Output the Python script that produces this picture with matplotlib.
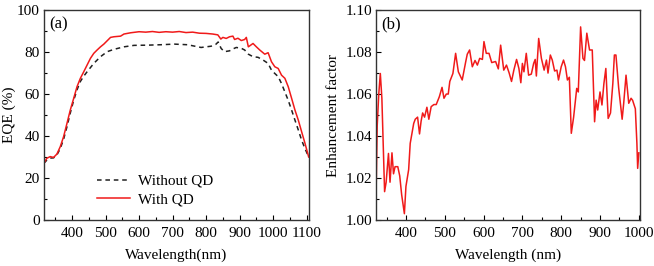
import matplotlib.pyplot as plt
from matplotlib.ticker import MultipleLocator, FormatStrFormatter

plt.rcParams['font.family'] = ['Liberation Serif', 'DejaVu Serif']
plt.rcParams['font.size'] = 11

# (a) EQE, with quantum dots (red)
wl_qd = [316, 325, 335, 345, 355, 365, 375, 385, 395, 405, 415, 425, 435, 445, 455,
         465, 475, 485, 495, 505, 515, 525, 545, 555, 575, 600, 620, 640, 660, 680,
         700, 720, 740, 760, 780, 800, 820, 835, 844, 850, 860, 870, 880, 885, 895,
         905, 915, 920, 926, 940, 950, 960, 975, 985, 995, 1005, 1015, 1025, 1035, 1045,
         1055, 1065, 1075, 1085, 1095, 1106]
eqe_qd = [27.0, 29.4, 30.2, 29.8, 31.4, 34.9, 39.7, 46.0, 52.4, 57.9, 63.5, 67.5, 70.6, 73.8, 77.0,
          79.4, 81.0, 82.5, 83.8, 85.4, 87.0, 87.3, 87.6, 88.6, 89.2, 89.7, 89.5, 89.8, 89.4, 89.7,
          89.5, 89.8, 89.3, 89.5, 89.0, 88.9, 88.6, 88.2, 86.2, 87.0, 86.5, 87.3, 87.6, 86.0, 86.6,
          85.5, 86.0, 87.0, 82.5, 84.1, 82.5, 81.0, 79.0, 79.7, 75.4, 73.0, 72.2, 69.0, 67.5, 63.5,
          58.0, 52.4, 47.6, 42.0, 36.5, 30.0]

# (a) EQE, without quantum dots (black dashed)
wl_ref = [316, 325, 335, 345, 355, 365, 375, 385, 395, 405, 415, 425, 435, 445, 465,
          485, 505, 525, 555, 585, 625, 665, 705, 745, 785, 815, 829, 836, 845, 855,
          870, 880, 890, 905, 915, 926, 940, 955, 970, 985, 995, 1005, 1015, 1025, 1035,
          1045, 1055, 1065, 1075, 1085, 1095, 1106]
eqe_ref = [27.0, 28.5, 29.5, 29.6, 31.0, 34.0, 38.5, 44.4, 51.0, 57.0, 62.0, 66.0, 68.5, 70.6, 74.6,
           77.8, 80.2, 81.3, 82.5, 83.2, 83.3, 83.5, 83.8, 83.5, 82.2, 82.8, 83.7, 84.8, 81.7, 80.2,
           80.6, 81.5, 82.2, 81.8, 81.0, 79.0, 77.8, 77.5, 76.2, 74.6, 71.4, 69.8, 68.3, 65.0, 61.0,
           57.0, 52.4, 47.6, 42.9, 38.0, 34.0, 30.0]

# (b) enhancement factor
wl_b = [322, 326, 330, 334, 338, 345, 349, 355, 359, 364, 368, 372, 379, 384, 389,
        396, 400, 407, 411, 420, 424, 430, 435, 439, 443, 448, 454, 459, 465, 472,
        478, 486, 493, 498, 504, 509, 513, 521, 528, 535, 545, 554, 558, 564, 571,
        578, 584, 590, 597, 601, 607, 614, 621, 631, 638, 644, 652, 659, 666, 672,
        678, 685, 691, 696, 700, 704, 710, 716, 723, 729, 733, 736, 742, 749, 756,
        762, 766, 772, 777, 783, 789, 793, 800, 806, 811, 816, 821, 826, 832, 840,
        844, 850, 856, 860, 866, 873, 880, 886, 890, 894, 900, 905, 910, 915, 921,
        927, 933, 937, 941, 948, 957, 961, 967, 974, 980, 984, 991, 995, 997, 1000]
ef = [1.001, 1.045, 1.060, 1.0698, 1.058, 1.0135, 1.018, 1.0317, 1.018, 1.032, 1.022, 1.0254, 1.0254, 1.021, 1.012,
      1.003, 1.016, 1.024, 1.0365, 1.046, 1.048, 1.049, 1.041, 1.047, 1.051, 1.049, 1.0537, 1.048, 1.054, 1.055,
      1.055, 1.0587, 1.0632, 1.058, 1.060, 1.060, 1.066, 1.0698, 1.0794, 1.0706, 1.0667, 1.0754, 1.079, 1.081, 1.073,
      1.076, 1.0738, 1.077, 1.0765, 1.085, 1.0794, 1.0794, 1.075, 1.0755, 1.072, 1.0833, 1.0714, 1.0738, 1.070, 1.066,
      1.0714, 1.0765, 1.0722, 1.0654, 1.0746, 1.0706, 1.0794, 1.069, 1.0695, 1.0746, 1.0765, 1.0686, 1.0865, 1.077, 1.0714,
      1.0762, 1.070, 1.0786, 1.0762, 1.071, 1.0714, 1.0667, 1.073, 1.0762, 1.073, 1.0667, 1.068, 1.0413, 1.049, 1.0627,
      1.061, 1.092, 1.077, 1.076, 1.089, 1.081, 1.081, 1.0468, 1.0571, 1.0524, 1.061, 1.0548, 1.065, 1.0722, 1.0484,
      1.051, 1.065, 1.0786, 1.0786, 1.063, 1.048, 1.0556, 1.069, 1.0556, 1.058, 1.057, 1.053, 1.0365, 1.0246, 1.032]

fig = plt.figure(figsize=(6.54, 2.66), dpi=100)
ax1 = fig.add_axes([0.067, 0.173, 0.405, 0.789])
ax2 = fig.add_axes([0.575, 0.173, 0.403, 0.789])

red = '#f01a1a'

ax1.plot(wl_ref, eqe_ref, color='#202020', lw=1.1, ls=(0, (3, 2.5)), label='Without QD')
ax1.plot(wl_qd, eqe_qd, color=red, lw=1.1, label='With QD')
ax1.set_xlim(316, 1106)
ax1.set_ylim(0, 100)
ax1.xaxis.set_major_locator(MultipleLocator(100))
ax1.xaxis.set_minor_locator(MultipleLocator(50))
ax1.yaxis.set_major_locator(MultipleLocator(20))
ax1.yaxis.set_minor_locator(MultipleLocator(10))
ax1.set_xlabel('Wavelength(nm)', labelpad=6)
ax1.set_ylabel('EQE (%)', labelpad=0.5)
ax1.text(0.02, 0.97, '(a)', transform=ax1.transAxes, va='top', ha='left', fontsize=12)
ax1.legend(loc='lower center', frameon=False, handlelength=2.2, handletextpad=0.5,
           labelspacing=0.3, bbox_to_anchor=(0.42, 0.0))

ax2.plot(wl_b, ef, color=red, lw=1.1)
ax2.set_xlim(323, 1002)
ax2.set_ylim(1.00, 1.10)
ax2.xaxis.set_major_locator(MultipleLocator(100))
ax2.xaxis.set_minor_locator(MultipleLocator(50))
ax2.yaxis.set_major_locator(MultipleLocator(0.02))
ax2.yaxis.set_minor_locator(MultipleLocator(0.01))
ax2.yaxis.set_major_formatter(FormatStrFormatter('%.2f'))
ax2.set_xlabel('Wavelength (nm)', labelpad=6)
ax2.set_ylabel('Enhancement factor', labelpad=4)
ax2.text(0.02, 0.97, '(b)', transform=ax2.transAxes, va='top', ha='left', fontsize=12)

for ax in (ax1, ax2):
    ax.tick_params(which='major', direction='in', length=3.5, width=0.8)
    ax.tick_params(which='minor', direction='in', length=2, width=0.8)
    ax.tick_params(axis='x', which='major', pad=5)
    ax.tick_params(axis='y', which='major', pad=3)
    for s in ax.spines.values():
        s.set_color('#333333')
        s.set_linewidth(1.0)

fig.savefig('out.png', dpi=100)
